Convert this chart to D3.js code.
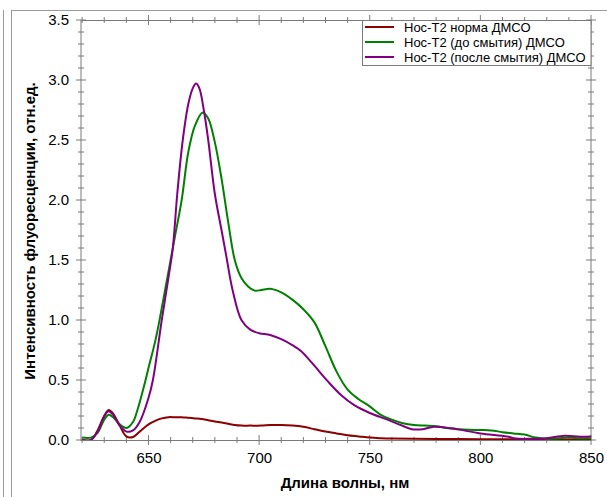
<!DOCTYPE html>
<html>
<head>
<meta charset="utf-8">
<script src="https://cdn.jsdelivr.net/npm/d3@7"></script>
<style>
  body { margin: 0; background: #fff; }
  svg { display: block; font-family: "Liberation Sans", Arial, sans-serif; }
</style>
</head>
<body>
<svg id="chart" width="607" height="497"></svg>
<script>
// Данные
var seriesNames = ['Нос-Т2 норма ДМСО', 'Нос-Т2 (до смытия) ДМСО', 'Нос-Т2 (после смытия) ДМСО'];
var seriesColors = ['#8b0000', '#008000', '#800080'];

var wlNorma = [620, 624, 627, 630, 632, 634, 637, 640, 643, 646, 650, 653, 656, 659, 662, 665, 668, 671, 674, 677, 680, 683, 686, 689, 692, 696, 701, 705, 710, 715, 720, 725, 730, 735, 740, 745, 750, 755, 760, 770, 785, 800, 820, 835, 850];
var norma =   [0.0, 0.0, 0.08, 0.2, 0.25, 0.22, 0.12, 0.03, 0.025, 0.07, 0.13, 0.16, 0.18, 0.19, 0.19, 0.19, 0.185, 0.18, 0.175, 0.165, 0.155, 0.145, 0.135, 0.125, 0.12, 0.12, 0.12, 0.125, 0.125, 0.12, 0.11, 0.09, 0.07, 0.055, 0.04, 0.03, 0.02, 0.015, 0.012, 0.01, 0.008, 0.007, 0.005, 0.004, 0.004];

var wlDo = [620, 624, 627, 630, 632, 634, 637, 640, 643, 645, 648, 650, 653, 655, 658, 660, 662, 665, 668, 671, 674.5, 677, 680, 683, 686, 689, 692, 695, 698, 701, 705, 710, 715, 720, 725, 730, 735, 740, 745, 750, 755, 760, 765, 770, 775, 780, 785, 790, 795, 800, 805, 810, 815, 820, 825, 830, 835, 840, 845, 850];
var doSmyt = [0.02, 0.02, 0.06, 0.17, 0.21, 0.19, 0.13, 0.1, 0.15, 0.25, 0.45, 0.6, 0.82, 1.0, 1.3, 1.5, 1.7, 2.0, 2.4, 2.62, 2.73, 2.68, 2.48, 2.18, 1.82, 1.5, 1.35, 1.28, 1.245, 1.25, 1.26, 1.23, 1.17, 1.09, 0.98, 0.78, 0.57, 0.42, 0.34, 0.28, 0.21, 0.17, 0.14, 0.125, 0.12, 0.115, 0.1, 0.09, 0.085, 0.083, 0.08, 0.065, 0.055, 0.045, 0.02, 0.01, 0.015, 0.02, 0.015, 0.015];

var wlPosle = [620, 624, 627, 630, 632, 634, 637, 640, 643, 646, 650, 652, 656, 659, 661, 663, 665.5, 668, 670, 671.5, 673, 675, 677, 680, 683, 685, 688, 692, 696, 700, 705, 710, 715, 719, 724, 731, 737, 743, 750, 758, 764, 769, 774, 779, 787, 800, 812, 816, 823, 830, 838, 845, 850];
var posleSmyt = [0.0, 0.0, 0.07, 0.2, 0.24, 0.21, 0.12, 0.07, 0.08, 0.15, 0.35, 0.5, 1.0, 1.35, 1.6, 2.05, 2.5, 2.8, 2.93, 2.97, 2.93, 2.75, 2.5, 2.05, 1.75, 1.55, 1.25, 1.0, 0.92, 0.89, 0.875, 0.84, 0.79, 0.74, 0.64, 0.49, 0.375, 0.29, 0.225, 0.17, 0.125, 0.09, 0.09, 0.11, 0.097, 0.055, 0.03, 0.012, 0.01, 0.015, 0.035, 0.028, 0.03];

var xTicks = [650, 700, 750, 800, 850];
var yTicks = [0.0, 0.5, 1.0, 1.5, 2.0, 2.5, 3.0, 3.5];

var svg = d3.select('#chart');
var pLeft = 81, pRight = 591, pTop = 20, pBottom = 440;

var x = d3.scaleLinear().domain([619.5, 850]).range([pLeft, pRight]);
var y = d3.scaleLinear().domain([0, 3.5]).range([pBottom, pTop]);

// рамка страницы
var frame = '#9a9a9a';
svg.append('line').attr('x1', 3.5).attr('x2', 3.5).attr('y1', 10).attr('y2', 497).attr('stroke', frame);
svg.append('line').attr('x1', 11.5).attr('x2', 11.5).attr('y1', 10).attr('y2', 497).attr('stroke', frame);
svg.append('line').attr('x1', 11).attr('x2', 607).attr('y1', 10.5).attr('y2', 10.5).attr('stroke', frame);

var axisColor = '#7a7a7a';
var minorX = d3.range(620, 851, 10);
var minorY = d3.range(0, 3.51, 0.1);

// малые и большие засечки
function ticksX(ypos) {
  minorX.forEach(function (v) {
    var major = v % 50 === 0;
    svg.append('line').attr('x1', x(v)).attr('x2', x(v))
      .attr('y1', ypos - (major ? 5 : 3)).attr('y2', ypos + (major ? 5 : 3))
      .attr('stroke', axisColor);
  });
}
function ticksY(xpos) {
  minorY.forEach(function (v, i) {
    var major = i % 5 === 0;
    svg.append('line').attr('y1', y(v)).attr('y2', y(v))
      .attr('x1', xpos - (major ? 5 : 3)).attr('x2', xpos + (major ? 5 : 3))
      .attr('stroke', axisColor);
  });
}

var gx = svg.append('g').attr('transform', 'translate(0,' + pBottom + ')')
  .call(d3.axisBottom(x).tickValues(xTicks).tickSize(0).tickPadding(12).tickFormat(d3.format('d')));
var gy = svg.append('g').attr('transform', 'translate(' + pLeft + ',0)')
  .call(d3.axisLeft(y).tickValues(yTicks).tickSize(0).tickPadding(12).tickFormat(d3.format('.1f')));
[gx, gy].forEach(function (g) {
  g.select('.domain').remove();
  g.selectAll('text').attr('font-size', 15).attr('fill', '#000')
    .attr('font-family', '"Liberation Sans", Arial, sans-serif');
});

svg.append('rect').attr('x', pLeft).attr('y', pTop + 0.5)
  .attr('width', pRight - pLeft).attr('height', pBottom - pTop)
  .attr('fill', 'none').attr('stroke', axisColor);
ticksX(pBottom); ticksX(pTop);
ticksY(pLeft); ticksY(pRight);

// кривые
svg.append('clipPath').attr('id', 'clip').append('rect')
  .attr('x', pLeft).attr('y', pTop).attr('width', pRight - pLeft).attr('height', pBottom - pTop);

var series = [
  { wl: wlNorma, v: norma },
  { wl: wlDo, v: doSmyt },
  { wl: wlPosle, v: posleSmyt }
];
var line = d3.line().x(function (d) { return x(d[0]); }).y(function (d) { return y(d[1]); })
  .curve(d3.curveCatmullRom.alpha(0.5));

series.forEach(function (s, i) {
  var pts = s.wl.map(function (w, j) { return [w, s.v[j]]; });
  svg.append('path').datum(pts).attr('d', line)
    .attr('clip-path', 'url(#clip)')
    .attr('fill', 'none').attr('stroke', seriesColors[i]).attr('stroke-width', 2);
});

// легенда
var lg = svg.append('g');
lg.append('rect').attr('x', 362.5).attr('y', pTop + 0.5).attr('width', pRight - 362.5).attr('height', 45)
  .attr('fill', '#fff').attr('stroke', axisColor);
seriesNames.forEach(function (name, i) {
  var yy = 27 + i * 15;
  lg.append('line').attr('x1', 365).attr('x2', 394).attr('y1', yy).attr('y2', yy)
    .attr('stroke', seriesColors[i]).attr('stroke-width', 2);
  lg.append('text').attr('x', 404).attr('y', yy).attr('dy', '0.35em')
    .attr('font-size', 13).text(name);
});

// подписи осей
svg.append('text').attr('x', 345).attr('y', 488).attr('text-anchor', 'middle')
  .attr('font-size', 15).attr('font-weight', 'bold').text('Длина волны, нм');
svg.append('text').attr('transform', 'translate(35,231) rotate(-90)').attr('text-anchor', 'middle')
  .attr('font-size', 15).attr('font-weight', 'bold').text('Интенсивность флуоресценции, отн.ед.');
</script>
</body>
</html>
